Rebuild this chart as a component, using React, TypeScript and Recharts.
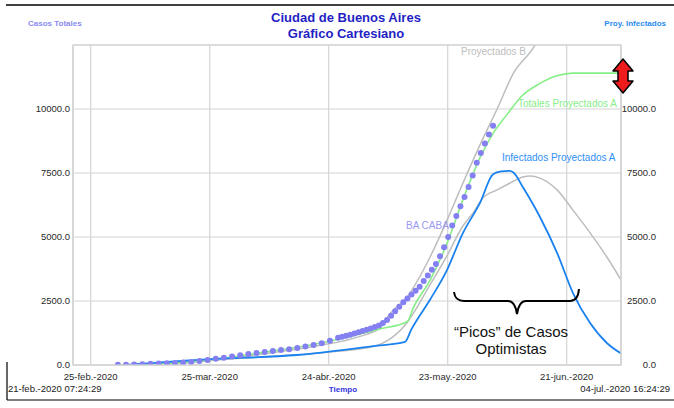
import React from 'react';
import { LineChart, Line, XAxis, YAxis, CartesianGrid } from 'recharts';

const FONT = '"Liberation Sans", Arial, Helvetica, sans-serif';

// Time axis: days elapsed since 21-feb.-2020 07:24:29 (end 04-jul.-2020 16:24:29)
const X_MAX = 134.375;
const Y_MAX = 12500;
const xTickDays = [4.34, 33.52, 62.7, 91.88, 121.06];
const xTickLabels = ['25-feb.-2020', '25-mar.-2020', '24-abr.-2020', '23-may.-2020', '21-jun.-2020'];
const yTicks = [0, 2500, 5000, 7500, 10000];

// BA CABA (observed total cases)
const cabaDays = [11, 13, 15, 17, 19, 21, 23, 25, 27, 29, 31, 33, 35, 37, 39, 41, 43, 45, 47, 49, 51, 53, 55, 57, 59, 61, 63,
  65, 66, 67, 68, 69, 70, 71, 72, 73, 74, 75, 76, 77, 78, 79, 80, 81, 82, 83, 84, 85, 86, 87, 88, 89, 90, 91, 92, 93, 94, 95, 96, 97, 98, 99, 100, 101, 102, 103];
const cabaCases = [5, 10, 20, 30, 45, 55, 65, 80, 100, 120, 160, 195, 240, 280, 330, 380, 430, 470, 510, 550, 590, 620, 660, 720, 780, 850, 950,
  1060, 1100, 1140, 1185, 1230, 1280, 1330, 1380, 1430, 1480, 1540, 1640, 1760, 1920, 2100, 2280, 2450, 2600, 2750, 2900, 3060, 3280, 3500, 3720, 3950, 4250, 4600, 5000, 5450, 5820, 6200, 6560, 6950, 7400, 7900, 8280, 8650, 9000, 9350];

// Totales Proyectados A
const totA_days = [11, 25, 35, 47, 62, 75, 82, 83.5, 87.5, 91.7, 95.6, 99.8, 103, 106.5, 110, 114.5, 118.7, 122.6, 134.4];
const totA_vals = [0, 80, 230, 500, 900, 1400, 1700, 2250, 3300, 4750, 6450, 8100, 9050, 9800, 10500, 11000, 11300, 11400, 11400];

// Infectados Proyectados A
const infA_days = [13, 33.6, 54.9, 73.6, 81.4, 83, 87.5, 91.7, 95.6, 99.8, 103, 105, 107, 108, 110.3, 114.5, 118.7, 122.6, 126.8, 130.9, 134.4];
const infA_vals = [0, 230, 390, 740, 900, 1400, 2540, 3710, 5150, 6330, 7450, 7560, 7580, 7520, 6950, 5780, 4380, 2810, 1640, 860, 450];

// Proyectados B (totales)
const totB_days = [11, 30, 45, 60, 70, 75.3, 77.7, 81.9, 87.5, 91.7, 95.6, 99.8, 104, 108, 113.3, 116];
const totB_vals = [0, 120, 400, 750, 1100, 1450, 2000, 2650, 4200, 5650, 7100, 8600, 10000, 11400, 12500, 13400];

// Proyectados B (infectados)
const infB_days = [15, 20, 35, 50, 63, 73.6, 81.9, 87.5, 91.7, 95.6, 98.1, 100.5, 104, 107.2, 110.3, 112.1, 114.5, 118.7, 122.6, 126.8, 130.9, 134.4];
const infB_vals = [0, 50, 200, 350, 510, 720, 1650, 3120, 4260, 5430, 5940, 6520, 6840, 7110, 7340, 7380, 7300, 6840, 6050, 5160, 4220, 3320];

const rows = (xs: number[], ys: number[]) => xs.map((d, i) => ({ d, v: ys[i] }));

const cabaData = rows(cabaDays, cabaCases);
const totAData = rows(totA_days, totA_vals);
const infAData = rows(infA_days, infA_vals);
const totBData = rows(totB_days, totB_vals);
const infBData = rows(infB_days, infB_vals);

const GRID = '#d4d4d4';
const TICK = { fontSize: 9.5, fill: '#2a2a2a', fontFamily: FONT };

const RightTick = (props: any) => {
  const { x, y, payload } = props;
  return (
    <text x={x + 35} y={y} dy="0.35em" textAnchor="end" fontSize={9.5} fill="#2a2a2a" fontFamily={FONT}>
      {Number(payload.value).toFixed(1)}
    </text>
  );
};

export default function App() {
  return (
    <div style={{ position: 'absolute', left: 0, top: 0, width: 674, height: 408, background: '#fff' }}>
      <LineChart width={674} height={408} margin={{ top: 45, right: 13, left: 0, bottom: 13 }}>
        <CartesianGrid yAxisId="left" stroke={GRID} strokeWidth={1.2} />
        <XAxis
          dataKey="d"
          type="number"
          domain={[0, X_MAX]}
          allowDataOverflow
          ticks={xTickDays}
          tickFormatter={(v: number) => xTickLabels[xTickDays.indexOf(v)] ?? ''}
          height={30}
          tickSize={0}
          tickMargin={8}
          axisLine={{ stroke: GRID }}
          tickLine={false}
          tick={TICK}
          interval={0}
        />
        <YAxis
          yAxisId="left"
          width={73}
          domain={[0, Y_MAX]}
          allowDataOverflow
          ticks={yTicks}
          tickFormatter={(v: number) => v.toFixed(1)}
          tickSize={0}
          tickMargin={3}
          axisLine={{ stroke: GRID }}
          tickLine={false}
          tick={TICK}
          interval={0}
        />
        <YAxis
          yAxisId="right"
          orientation="right"
          width={40}
          domain={[0, Y_MAX]}
          allowDataOverflow
          ticks={yTicks}
          tickSize={0}
          tickMargin={0}
          axisLine={{ stroke: GRID }}
          tickLine={false}
          tick={<RightTick />}
          interval={0}
        />
        <Line
          yAxisId="left"
          data={cabaData}
          dataKey="v"
          stroke="none"
          strokeWidth={0}
          dot={{ r: 3, fill: '#8480f2', stroke: 'none' }}
          isAnimationActive={false}
        />
        <Line yAxisId="left" type="monotone" data={infBData} dataKey="v" stroke="#bdbdbd" strokeWidth={1.5} dot={false} isAnimationActive={false} />
        <Line yAxisId="left" type="monotone" data={totBData} dataKey="v" stroke="#bdbdbd" strokeWidth={1.5} dot={false} isAnimationActive={false} />
        <Line yAxisId="left" type="monotone" data={totAData} dataKey="v" stroke="#86ee86" strokeWidth={1.6} dot={false} isAnimationActive={false} />
        <Line yAxisId="left" type="monotone" data={infAData} dataKey="v" stroke="#1a82f0" strokeWidth={1.8} dot={false} isAnimationActive={false} />
      </LineChart>

      <svg width={674} height={408} style={{ position: 'absolute', left: 0, top: 0, pointerEvents: 'none' }} fontFamily={FONT}>
        <rect x={73} y={45} width={548} height={320} fill="none" stroke={GRID} strokeWidth={1.2} />
        <line x1={6} y1={5} x2={674} y2={5} stroke="#000" strokeWidth={1.5} />
        <line x1={7} y1={362} x2={7} y2={400} stroke="#000" strokeWidth={1.2} />
        <line x1={7} y1={400} x2={674} y2={400} stroke="#000" strokeWidth={1.2} />

        <text x={346} y={22} textAnchor="middle" fontSize={13} fontWeight="bold" fill="#1f1fc4">Ciudad de Buenos Aires</text>
        <text x={346} y={38} textAnchor="middle" fontSize={13} fontWeight="bold" fill="#1f1fc4">Gráfico Cartesiano</text>
        <text x={28} y={26} fontSize={8} fontWeight="bold" fill="#8a8af0">Casos Totales</text>
        <text x={666} y={26} textAnchor="end" fontSize={8} fontWeight="bold" fill="#2a8cf0">Proy. Infectados</text>

        <text x={461} y={55} fontSize={10} fill="#bdbdbd">Proyectados B</text>
        <text x={518} y={107} fontSize={10} fill="#88ee88">Totales Proyectados A</text>
        <text x={502} y={161} fontSize={10} fill="#2f8ff5">Infectados Proyectados A</text>
        <text x={406} y={229} fontSize={10} fill="#9a9af0">BA CABA</text>

        <path d="M454,292 Q455,301 464,301 L508,301 Q515,301 517,314 Q519,301 526,301 L570,301 Q578,301 579,289" fill="none" stroke="#000" strokeWidth={2} />
        <text x={511} y={337} textAnchor="middle" fontSize={15} fill="#111">“Picos” de Casos</text>
        <text x={511} y={354} textAnchor="middle" fontSize={15} fill="#111">Optimistas</text>

        <polygon points="623,59 633,71 628,71 628,81 633,81 623,93 613,81 618,81 618,71 613,71" fill="#ee1c1c" stroke="#000" strokeWidth={1.5} strokeLinejoin="round" />

        <text x={8} y={392} fontSize={9.5} fill="#222">21-feb.-2020 07:24:29</text>
        <text x={343} y={392} textAnchor="middle" fontSize={8} fontWeight="bold" fill="#3333e0">Tiempo</text>
        <text x={670} y={392} textAnchor="end" fontSize={9.5} fill="#222">04-jul.-2020 16:24:29</text>
      </svg>
    </div>
  );
}
